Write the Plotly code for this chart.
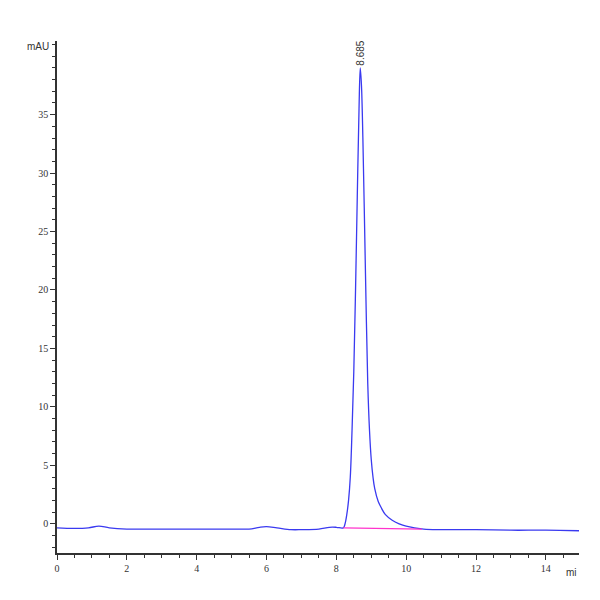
import plotly.graph_objects as go

time_min = [0, 0.5, 0.9, 1.2, 1.5, 2.0, 3.0, 4.0, 5.0, 5.5, 5.8, 6.0, 6.3, 6.7, 7.0, 7.5, 7.8, 8.0, 8.2,
            8.25, 8.3, 8.35, 8.4, 8.45, 8.5, 8.55, 8.6, 8.65, 8.685, 8.72, 8.76, 8.8, 8.85, 8.9, 8.95,
            9.0, 9.05, 9.1, 9.2, 9.3, 9.4, 9.6, 9.8, 10.0, 10.5, 11.0, 12.0, 13.0, 14.0, 15.0]
signal_mau = [-0.35, -0.4, -0.35, -0.2, -0.35, -0.45, -0.45, -0.45, -0.45, -0.45, -0.3, -0.25, -0.35, -0.5, -0.5, -0.45, -0.3, -0.3, -0.35,
              0.0, 0.8, 2.0, 4.0, 8.0, 13.0, 20.0, 28.0, 35.5, 39.0, 37.5, 33.0, 27.0, 19.0, 12.0, 8.0,
              5.5, 4.0, 3.0, 1.9, 1.3, 0.8, 0.3, 0.0, -0.2, -0.45, -0.5, -0.5, -0.55, -0.55, -0.6]
baseline_x = [8.2, 10.45]
baseline_y = [-0.35, -0.45]
peak_label = "8.685"
y_ticks = [0, 5, 10, 15, 20, 25, 30, 35]

fig = go.Figure()
fig.add_trace(go.Scatter(x=time_min, y=signal_mau, mode="lines",
                         line=dict(color="#3a3af0", width=1.3, shape="spline"), hoverinfo="skip"))
fig.add_trace(go.Scatter(x=baseline_x, y=baseline_y, mode="lines",
                         line=dict(color="#ff33cc", width=1.3), hoverinfo="skip"))
fig.add_annotation(x=8.685, y=39.0, text=peak_label, textangle=-90, showarrow=False,
                   yanchor="bottom", yshift=0, font=dict(size=10, color="#333", family="Liberation Sans"))
fig.add_annotation(x=0, y=1, xref="paper", yref="paper", text="mAU", showarrow=False,
                   xanchor="right", yanchor="top", xshift=-6, yshift=2, font=dict(size=10, color="#333"))
fig.add_annotation(x=1, y=0, xref="paper", yref="paper", text="mi", showarrow=False,
                   xanchor="right", yanchor="top", yshift=-12, font=dict(size=10, color="#333"))

axis_common = dict(showgrid=False, zeroline=False, showline=True, linecolor="#333", linewidth=1.5,
                   ticks="outside", ticklen=5, tickcolor="#333", automargin=False,
                   tickfont=dict(size=10, color="#333", family="Liberation Sans Narrow"))
fig.update_xaxes(range=[0, 14.95], dtick=2, minor=dict(dtick=0.5, ticks="outside", ticklen=3, tickcolor="#333"),
                 **axis_common)
fig.update_yaxes(range=[-2.5, 41.3], tickvals=y_ticks,
                 minor=dict(dtick=1, ticks="outside", ticklen=3, tickcolor="#333"),
                 **axis_common)
fig.update_layout(width=600, height=600, showlegend=False, plot_bgcolor="white", paper_bgcolor="white",
                  margin=dict(l=49, r=29, t=33, b=55), font=dict(family="Liberation Sans"))
fig.write_html("out.html")
